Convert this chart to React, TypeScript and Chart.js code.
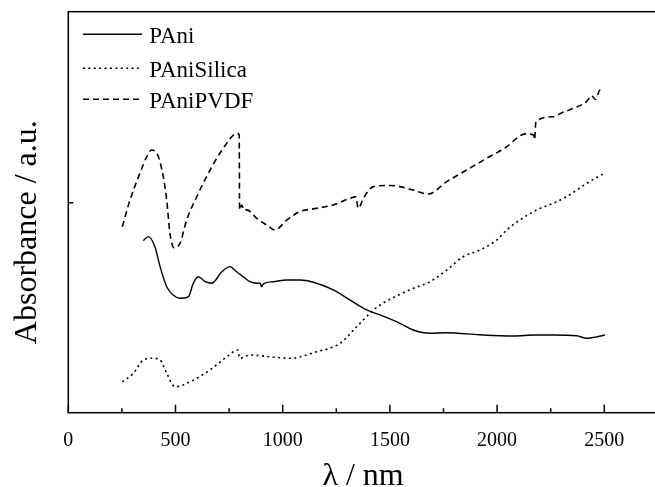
import React, { useEffect, useRef } from 'react';
import { Chart, registerables } from 'chart.js';

Chart.register(...registerables);

// Wavelength (nm) / absorbance (a.u.)
const pAniX = [350, 373, 404, 428, 459, 489, 521, 560, 583, 606, 638, 669, 716, 754, 785, 816, 847, 879, 895, 902, 910, 956, 1019, 1081, 1143, 1236, 1314, 1392, 1454, 1547, 1609, 1687, 1765, 1920, 2076, 2180, 2262, 2371, 2418, 2460, 2503];
const pAniY = [0.801, 0.822, 0.769, 0.665, 0.560, 0.516, 0.499, 0.507, 0.578, 0.612, 0.586, 0.578, 0.638, 0.665, 0.638, 0.612, 0.586, 0.578, 0.578, 0.560, 0.575, 0.586, 0.595, 0.595, 0.583, 0.543, 0.490, 0.438, 0.412, 0.368, 0.333, 0.316, 0.319, 0.308, 0.302, 0.307, 0.307, 0.303, 0.290, 0.296, 0.307];

const silicaX = [252, 303, 350, 396, 428, 459, 498, 568, 661, 739, 790, 800, 847, 950, 1034, 1158, 1267, 1345, 1423, 1454, 1547, 1609, 1687, 1765, 1842, 1920, 1998, 2045, 2106, 2185, 2262, 2324, 2418, 2499];
const silicaY = [0.062, 0.106, 0.176, 0.185, 0.176, 0.106, 0.036, 0.062, 0.124, 0.193, 0.228, 0.185, 0.202, 0.192, 0.185, 0.219, 0.263, 0.350, 0.438, 0.464, 0.520, 0.551, 0.586, 0.647, 0.717, 0.752, 0.804, 0.857, 0.909, 0.962, 0.997, 1.031, 1.101, 1.154];

const pvdfX = [252, 288, 334, 366, 389, 420, 443, 459, 474, 493, 521, 552, 599, 645, 692, 739, 770, 790, 797, 799, 809, 820, 832, 879, 925, 964, 1019, 1081, 1158, 1236, 1314, 1340, 1353, 1376, 1423, 1500, 1547, 1609, 1679, 1765, 1858, 1951, 2045, 2091, 2130, 2169, 2175, 2181, 2262, 2300, 2355, 2417, 2440, 2460, 2480, 2499];
const pvdfY = [0.874, 1.014, 1.154, 1.241, 1.276, 1.241, 1.136, 1.014, 0.841, 0.764, 0.787, 0.909, 1.031, 1.136, 1.232, 1.311, 1.354, 1.363, 1.354, 0.962, 0.988, 0.960, 0.962, 0.918, 0.883, 0.857, 0.909, 0.953, 0.970, 0.988, 1.023, 1.030, 0.970, 1.023, 1.084, 1.090, 1.084, 1.066, 1.045, 1.110, 1.171, 1.232, 1.293, 1.337, 1.360, 1.355, 1.330, 1.424, 1.450, 1.470, 1.494, 1.529, 1.560, 1.540, 1.590, 1.590];

const seriesLabels = ['PAni', 'PAniSilica', 'PAniPVDF'];
const xMajorTicks = [0, 500, 1000, 1500, 2000, 2500];
const xMinorTicks = [250, 750, 1250, 1750, 2250];
const yTicks = [1];
const xTitle = 'λ / nm';
const yTitle = 'Absorbance / a.u.';

const FONT = '"Liberation Serif", "Times New Roman", serif';

const zip = (xs: number[], ys: number[]) => xs.map((x, i) => ({ x, y: ys[i] }));

const decorPlugin = {
  id: 'decor',
  afterDraw(chart: any) {
    const { ctx, chartArea, scales } = chart;
    const { left, top, right, bottom } = chartArea;
    const xs = scales.x;
    const ys = scales.y;
    ctx.save();
    ctx.strokeStyle = '#000';
    ctx.fillStyle = '#000';
    ctx.lineWidth = 1.5;
    ctx.setLineDash([]);
    ctx.strokeRect(left, top, right - left, bottom - top);
    ctx.beginPath();
    xMajorTicks.forEach((v) => {
      const px = xs.getPixelForValue(v);
      ctx.moveTo(px, bottom);
      ctx.lineTo(px, bottom - 8);
    });
    xMinorTicks.forEach((v) => {
      const px = xs.getPixelForValue(v);
      ctx.moveTo(px, bottom);
      ctx.lineTo(px, bottom - 4.5);
    });
    yTicks.forEach((v) => {
      const py = ys.getPixelForValue(v);
      ctx.moveTo(left, py);
      ctx.lineTo(left + 5, py);
    });
    ctx.stroke();

    // axis titles
    ctx.font = `32px ${FONT}`;
    ctx.textAlign = 'center';
    ctx.textBaseline = 'alphabetic';
    ctx.fillText(xTitle, (left + right) / 2, 485);
    ctx.save();
    ctx.translate(36, (top + bottom) / 2 + 20);
    ctx.rotate(-Math.PI / 2);
    ctx.fillText(yTitle, 0, 0);
    ctx.restore();

    // legend
    const lineY = [34.3, 68.3, 99.3];
    ctx.font = `23px ${FONT}`;
    ctx.textAlign = 'left';
    chart.data.datasets.forEach((ds: any, i: number) => {
      ctx.beginPath();
      ctx.lineWidth = ds.borderWidth;
      ctx.setLineDash(ds.borderDash || []);
      ctx.moveTo(83, lineY[i]);
      ctx.lineTo(142, lineY[i]);
      ctx.stroke();
      ctx.fillText(ds.label, 149.3, lineY[i] + 9);
    });
    ctx.restore();
  },
};

export default function App() {
  const ref = useRef<HTMLCanvasElement | null>(null);
  useEffect(() => {
    if (!ref.current) return;
    const chart = new Chart(ref.current, {
      type: 'line',
      data: {
        datasets: [
          { label: seriesLabels[0], data: zip(pAniX, pAniY), borderColor: '#000', borderWidth: 1.4, borderDash: [], pointRadius: 0, fill: false, cubicInterpolationMode: 'monotone' },
          { label: seriesLabels[1], data: zip(silicaX, silicaY), borderColor: '#000', borderWidth: 1.6, borderDash: [2, 3.4], pointRadius: 0, fill: false, cubicInterpolationMode: 'monotone' },
          { label: seriesLabels[2], data: zip(pvdfX, pvdfY), borderColor: '#000', borderWidth: 1.6, borderDash: [6, 4], pointRadius: 0, fill: false, cubicInterpolationMode: 'monotone' },
        ],
      } as any,
      options: {
        animation: false,
        responsive: false,
        devicePixelRatio: 1,
        layout: { padding: { left: 0, top: 11.7, right: 670 - 657.9, bottom: 0 } },
        plugins: { legend: { display: false }, tooltip: { enabled: false } },
        scales: {
          x: {
            type: 'linear',
            min: 0,
            max: 2750,
            grid: { display: false },
            border: { display: false },
            afterFit: (s: any) => { s.height = 487 - 412.7; },
            afterBuildTicks: (s: any) => { s.ticks = xMajorTicks.map((v) => ({ value: v })); },
            ticks: { color: '#000', font: { family: FONT, size: 20, lineHeight: 1.2 }, padding: 8, maxRotation: 0, callback: (v: any) => String(v) },
          },
          y: {
            type: 'linear',
            min: -0.1,
            max: 2.0,
            grid: { display: false },
            border: { display: false },
            afterFit: (s: any) => { s.width = 68.3; },
            afterBuildTicks: (s: any) => { s.ticks = yTicks.map((v) => ({ value: v })); },
            ticks: { display: false },
          },
        },
      } as any,
      plugins: [decorPlugin],
    });
    return () => chart.destroy();
  }, []);
  return (
    <div style={{ position: 'fixed', left: 0, top: 0, width: 655, height: 487, overflow: 'hidden', background: '#fff' }}>
      <canvas ref={ref} width={670} height={487} style={{ display: 'block' }} />
    </div>
  );
}
